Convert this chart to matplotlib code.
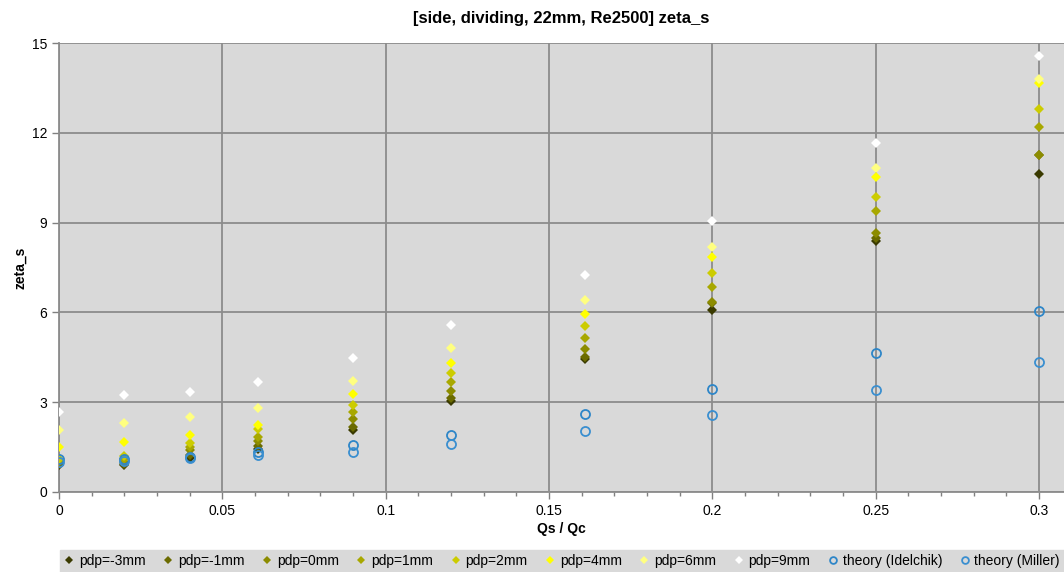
import matplotlib
matplotlib.use('Agg')
import matplotlib.pyplot as plt
from matplotlib.ticker import MultipleLocator

plt.rcParams['font.family'] = ['Liberation Sans', 'DejaVu Sans']

# Qs / Qc
x = [0, 0.02, 0.04, 0.061, 0.09, 0.12, 0.161, 0.2, 0.25, 0.3]

labels = ['pdp=-3mm', 'pdp=-1mm', 'pdp=0mm', 'pdp=1mm', 'pdp=2mm',
          'pdp=4mm', 'pdp=6mm', 'pdp=9mm']
colors = ['#3a3a00', '#6b6b00', '#8c8c00', '#a8a800', '#cccc00',
          '#ffff00', '#ffff80', '#ffffff']

pdp_m3 = [0.90, 0.90, 1.15, 1.45, 2.07, 3.04, 4.45, 6.08, 8.40, 10.62]
pdp_m1 = [0.95, 0.95, 1.25, 1.55, 2.18, 3.13, 4.50, 6.30, 8.48, 11.26]
pdp_0 = [1.00, 1.00, 1.40, 1.70, 2.44, 3.36, 4.78, 6.36, 8.66, 11.26]
pdp_1 = [1.05, 1.10, 1.50, 1.85, 2.68, 3.68, 5.13, 6.86, 9.39, 12.19]
pdp_2 = [1.10, 1.20, 1.62, 2.10, 2.90, 3.97, 5.56, 7.31, 9.85, 12.81]
pdp_4 = [1.50, 1.67, 1.89, 2.25, 3.26, 4.31, 5.95, 7.86, 10.54, 13.68]
pdp_6 = [2.07, 2.32, 2.50, 2.80, 3.71, 4.81, 6.41, 8.19, 10.81, 13.81]
pdp_9 = [2.67, 3.24, 3.34, 3.67, 4.49, 5.59, 7.24, 9.05, 11.67, 14.57]

idelchik = [1.10, 1.10, 1.18, 1.35, 1.58, 1.92, 2.62, 3.43, 4.65, 6.05]
miller = [1.00, 1.02, 1.12, 1.22, 1.34, 1.59, 2.05, 2.58, 3.41, 4.35]

series = [pdp_m3, pdp_m1, pdp_0, pdp_1, pdp_2, pdp_4, pdp_6, pdp_9]

fig = plt.figure(figsize=(10.64, 5.72), dpi=100)
ax = fig.add_axes([0.0555, 0.1399, 0.9445, 0.7849])
ax.set_facecolor('#d9d9d9')

for ys, lab, col in zip(series, labels, colors):
    ax.plot(x, ys, linestyle='none', marker='D', markersize=5.5,
            color=col, markeredgewidth=0, label=lab, zorder=3)

ax.plot(x, idelchik, linestyle='none', marker='o', markersize=6.5,
        markerfacecolor='none', markeredgecolor='#2e86c8', markeredgewidth=1.3,
        label='theory (Idelchik)', zorder=4)
ax.plot(x, miller, linestyle='none', marker='o', markersize=6.5,
        markerfacecolor='none', markeredgecolor='#3a8fd0', markeredgewidth=1.3,
        label='theory (Miller)', zorder=4)

ax.set_xlim(0, 0.3076)
ax.set_ylim(0, 15)
ax.xaxis.set_minor_locator(MultipleLocator(0.01))
ax.yaxis.set_major_locator(MultipleLocator(3))
ax.set_xticks([0, 0.05, 0.1, 0.15, 0.2, 0.25, 0.3])
ax.set_xticklabels(['0', '0.05', '0.1', '0.15', '0.2', '0.25', '0.3'])
ax.tick_params(axis='both', which='major', direction='out', length=5,
               color='#808080', labelsize=10, width=1)
ax.tick_params(axis='x', which='minor', direction='out', length=3,
               color='#808080', width=1)
ax.grid(True, which='major', color='#8c8c8c', linewidth=1.3, zorder=1)
ax.set_axisbelow(True)
for side in ['top', 'right']:
    ax.spines[side].set_visible(False)
for side in ['left', 'bottom']:
    ax.spines[side].set_color('#8c8c8c')
    ax.spines[side].set_linewidth(1.3)

ax.set_xlabel('Qs / Qc', fontsize=10, fontweight='bold', labelpad=3)
ax.set_ylabel('zeta_s', fontsize=10, fontweight='bold', labelpad=3)
fig.text(0.527, 0.968, '[side, dividing, 22mm, Re2500] zeta_s',
         ha='center', va='center', fontsize=12, fontweight='bold',
         family=['Liberation Sans Narrow', 'Liberation Sans', 'DejaVu Sans'])

leg = fig.legend(loc='lower left', bbox_to_anchor=(0.056, 0.0, 0.944, 0.048),
                 mode='expand', ncol=10, fontsize=10, frameon=True,
                 handlelength=0.8, handletextpad=0.3, columnspacing=0.8,
                 borderpad=0.3, markerscale=0.75, borderaxespad=0)
leg.get_frame().set_facecolor('#d9d9d9')
leg.get_frame().set_edgecolor('#d9d9d9')
leg.get_frame().set_alpha(1)
leg.get_frame().set_boxstyle('square', pad=0)

fig.savefig('out.png', dpi=100)
